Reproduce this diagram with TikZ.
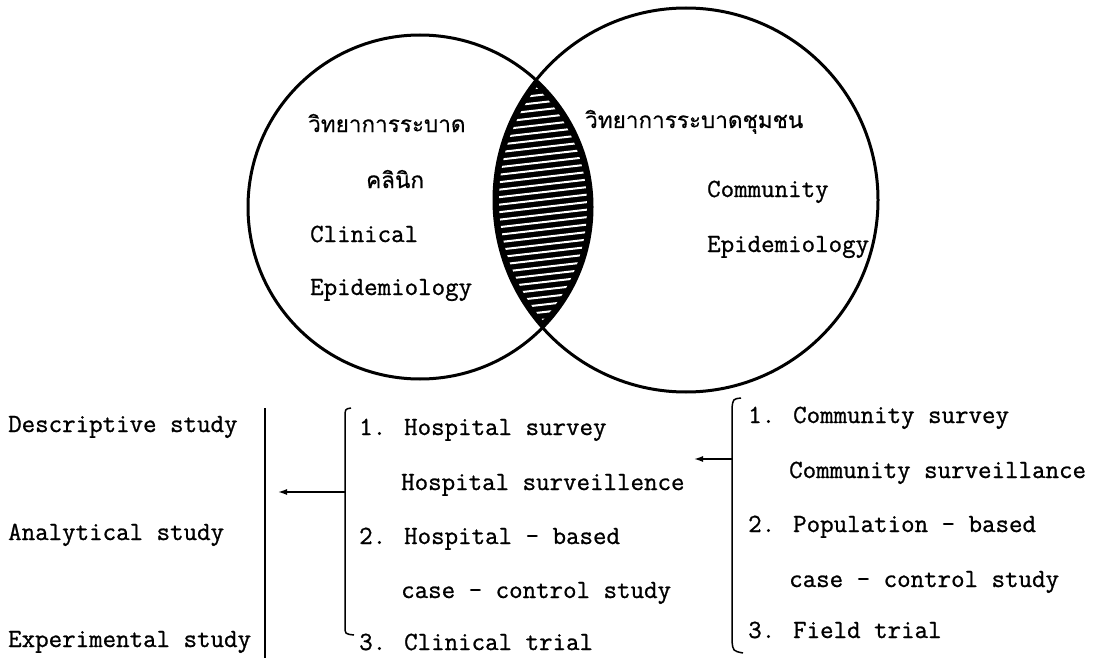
\documentclass[tikz,border=0pt]{standalone}
\usepackage{fontspec}
\newfontfamily\thaifont[Script=Thai,FakeBold=0.5]{Loma}
\newfontfamily\tw[FakeBold=0.9]{Latin Modern Mono}
\usetikzlibrary{arrows.meta}
\begin{document}
\begin{tikzpicture}[x=1pt,y=-1pt,
  txt/.style={font=\tw\fontsize{26.2}{30}\selectfont, inner sep=0pt, anchor=base west},
  thai/.style={font=\thaifont\fontsize{22.5}{28}\selectfont, inner sep=0pt, anchor=base west},
  ring/.style={line width=3pt},
  brk/.style={line width=1.5pt},
  arr/.style={line width=1.5pt, -{Latex[length=9pt,width=6pt]}}]
\useasboundingbox (0,0) rectangle (1103,658);
\fill[white] (0,0) rectangle (1103,658);
% centres
\coordinate (cl) at (420,207);
\coordinate (cr) at (686,200);
% hatched lens
\begin{scope}
  \clip (cl) circle (172);
  \fill[black] (cr) circle (192);
\end{scope}
\begin{scope}
  \clip (cl) circle (167);
  \clip (cr) circle (187);
  \foreach \y in {20,27.5,...,410} \draw[white, line width=2pt] (470,\y+8) -- (610,\y-8);
\end{scope}
\draw[ring] (cl) circle (172);
\draw[ring] (cr) circle (192);
% texts in circles
\node[thai] (th1) at (308,132) {วิทยาการระบาด};
\node[thai] (th2) at (366,188) {คลินิก};
\node[txt] (cl1) at (310,242) {Clinical};
\node[txt] (cl2) at (310,295) {Epidemiology};
\node[thai] (th3) at (585,128) {วิทยาการระบาดชุมชน};
\node[txt] (co1) at (707,197) {Community};
\node[txt] (co2) at (707,252) {Epidemiology};
% left column
\node[txt] (d1) at (8,432) {Descriptive study};
\node[txt] (d2) at (8,540) {Analytical study};
\node[txt] (d3) at (8,647) {Experimental study};
\coordinate (vt) at (265,408);
\coordinate (vb) at (265,658);
\draw[brk] (vt) -- (vb);
% middle list
\node[txt] (h1) at (359,435) {1. Hospital survey};
\node[txt] (h2) at (401,490) {Hospital surveillence};
\node[txt] (h3) at (359,544) {2. Hospital - based};
\node[txt] (h4) at (401,598) {case - control study};
\node[txt] (h5) at (359,650) {3. Clinical trial};
\draw[brk] (351,408) .. controls (345,409) .. (345,418) -- (345,626) .. controls (345,634) .. (354,635);
\coordinate (ls) at (345,492);
\coordinate (lt) at (278,492);
\draw[arr] (ls) -- (lt);
% right list
\node[txt] (c1) at (748,423) {1. Community survey};
\node[txt] (c2) at (789,478) {Community surveillance};
\node[txt] (c3) at (748,532) {2. Population - based};
\node[txt] (c4) at (789,587) {case - control study};
\node[txt] (c5) at (748,638) {3. Field trial};
\draw[brk] (741,398) .. controls (733,399) .. (732,408) -- (732,641) .. controls (733,651) .. (743,653);
\coordinate (rs) at (732,459);
\coordinate (rt) at (694,459);
\draw[arr] (rs) -- (rt);
\end{tikzpicture}
\end{document}
